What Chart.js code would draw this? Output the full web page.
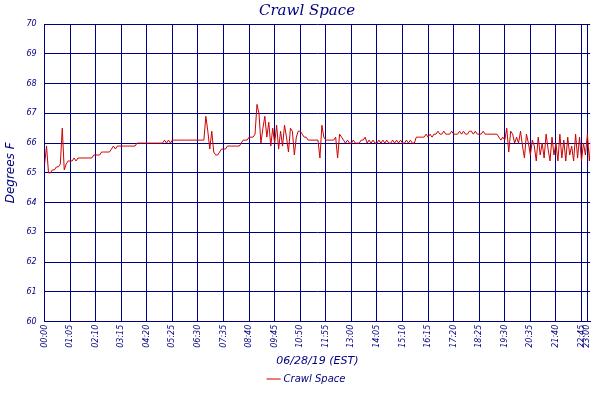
<!DOCTYPE html>
<html><head><meta charset="utf-8">
<script src="https://cdn.jsdelivr.net/npm/chart.js@4"></script>
<style>html,body{margin:0;padding:0;background:#fff}#w{width:600px;height:400px}</style>
</head><body><div id="w"><canvas id="c"></canvas></div>
<script>
const tickMinutes = [0,65,130,195,260,325,390,455,520,585,650,715,780,845,910,975,1040,1105,1170,1235,1300,1365,1380];
const yTicks = [60,61,62,63,64,65,66,67,68,69,70];
const stepMinutes = 5;
const temps = [
65.3,65.9,65.0,65.0,65.1,65.1,65.2,65.2,65.3,66.5,65.1,65.3,65.4,65.4,65.4,65.5,65.4,65.5,65.5,65.5,
65.5,65.5,65.5,65.5,65.5,65.6,65.6,65.6,65.6,65.7,65.7,65.7,65.7,65.7,65.8,65.9,65.8,65.9,65.9,65.9,
65.9,65.9,65.9,65.9,65.9,65.9,65.9,66.0,66.0,66.0,66.0,66.0,66.0,66.0,66.0,66.0,66.0,66.0,66.0,66.0,
66.0,66.1,66.0,66.1,66.0,66.1,66.1,66.1,66.1,66.1,66.1,66.1,66.1,66.1,66.1,66.1,66.1,66.1,66.1,66.1,
66.1,66.1,66.9,66.4,65.8,66.4,65.7,65.6,65.6,65.7,65.8,65.8,65.8,65.9,65.9,65.9,65.9,65.9,65.9,65.9,
66.0,66.1,66.1,66.1,66.2,66.2,66.2,66.3,67.3,67.0,66.0,66.5,66.9,66.2,66.7,65.9,66.5,66.0,66.6,65.8,
66.4,65.9,66.6,66.2,65.7,66.5,66.4,65.6,66.2,66.4,66.4,66.3,66.2,66.2,66.1,66.1,66.1,66.1,66.1,66.1,
65.5,66.6,66.2,66.1,66.1,66.1,66.1,66.1,66.2,65.5,66.3,66.2,66.1,66.0,66.1,66.0,66.0,66.1,66.0,66.0,
66.0,66.1,66.1,66.2,66.0,66.1,66.0,66.1,66.0,66.0,66.1,66.0,66.1,66.0,66.1,66.0,66.0,66.1,66.0,66.1,
66.0,66.1,66.0,66.0,66.1,66.0,66.1,66.0,66.0,66.2,66.2,66.2,66.2,66.2,66.3,66.2,66.3,66.2,66.3,66.3,
66.4,66.3,66.3,66.4,66.3,66.3,66.3,66.4,66.3,66.3,66.3,66.4,66.3,66.4,66.3,66.3,66.4,66.4,66.3,66.4,
66.3,66.3,66.3,66.4,66.3,66.3,66.3,66.3,66.3,66.3,66.3,66.2,66.1,66.2,66.1,66.5,65.7,66.4,66.3,66.0,
66.2,66.0,66.4,65.9,65.5,66.3,66.0,65.6,66.1,65.9,65.4,66.2,65.6,66.0,65.5,66.3,65.8,65.4,66.2,65.6,
66.0,65.4,66.3,65.5,66.1,65.4,66.2,65.6,65.9,65.4,66.3,65.5,66.2,65.4,66.0,65.6,66.3,65.4,66.2,65.5,
66.3,65.6,66.0,65.4,66.2,65.5,66.3
];
const points = temps.map((v,i)=>({x:i*stepMinutes,y:v}));
const fmt = m => String(Math.floor(m/60)).padStart(2,'0')+':'+String(m%60).padStart(2,'0');
const navy = '#000080';
const F = "'DejaVu Serif', serif";
const S = "'DejaVu Sans', sans-serif";
new Chart(document.getElementById('c'),{
 type:'line',
 data:{datasets:[{label:'Crawl Space',data:points,borderColor:'#cc0000',borderWidth:1,pointRadius:0,tension:0,fill:false}]},
 options:{
  responsive:true,maintainAspectRatio:false,animation:false,
  layout:{padding:{left:4,right:-10,top:0,bottom:6}},
  plugins:{
   title:{display:true,text:'Crawl Space',color:navy,font:{family:F,size:15,style:'italic',weight:'normal'},padding:{top:2,bottom:4}},
   legend:{position:'bottom',labels:{color:navy,font:{family:S,size:10,style:'italic'},usePointStyle:true,pointStyle:'line',boxWidth:14,padding:4}},
   tooltip:{enabled:false}
  },
  scales:{
   x:{type:'linear',min:0,max:1387,
      afterBuildTicks:a=>{a.ticks=tickMinutes.map(v=>({value:v}));},
      ticks:{color:navy,font:{family:S,size:8,style:'italic'},minRotation:90,maxRotation:90,autoSkip:false,callback:v=>fmt(v),padding:3},
      grid:{color:navy,lineWidth:1,drawTicks:false},border:{color:navy},
      title:{display:true,text:'06/28/19 (EST)',color:navy,font:{family:S,size:11,style:'italic'},padding:{top:4,bottom:2}}},
   y:{min:60,max:70,
      afterBuildTicks:a=>{a.ticks=yTicks.map(v=>({value:v}));},
      ticks:{color:navy,font:{family:S,size:8,style:'italic'},padding:8},
      grid:{color:navy,lineWidth:1,drawTicks:false},border:{color:navy},
      title:{display:true,text:'Degrees F',color:navy,font:{family:S,size:12,style:'italic'},padding:0}}
  }
 }
});
</script></body></html>
